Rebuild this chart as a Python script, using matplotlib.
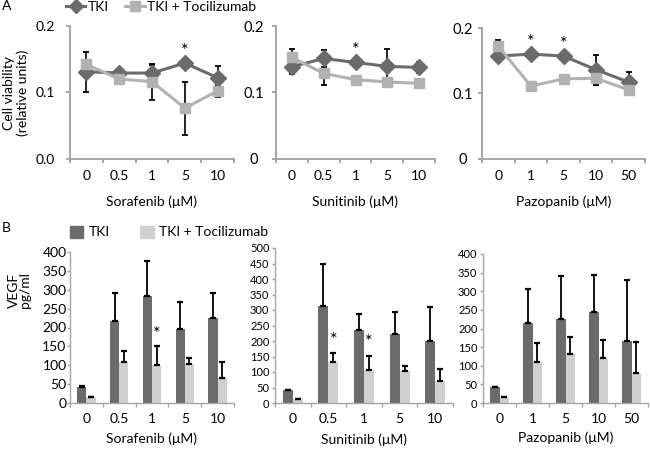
import matplotlib
matplotlib.use("Agg")
import matplotlib.pyplot as plt
from matplotlib.lines import Line2D
from matplotlib.patches import Patch
import numpy as np

plt.rcParams['font.family'] = ['Lato', 'DejaVu Sans']

W, H = 650, 454

# ---------------- data ----------------
sor_doses = ["0", "0.5", "1", "5", "10"]
sun_doses = ["0", "0.5", "1", "5", "10"]
paz_doses = ["0", "1", "5", "10", "50"]

# Panel A: cell viability
sor_tki = [0.131, 0.129, 0.129, 0.144, 0.122]
sor_tki_err = [0.030, 0.003, 0.012, 0.004, 0.018]
sor_combo = [0.142, 0.120, 0.116, 0.076, 0.102]
sor_combo_err = [0.004, 0.003, 0.027, 0.040, 0.009]

sun_tki = [0.1385, 0.151, 0.145, 0.139, 0.1375]
sun_tki_err = [0.011, 0.013, 0.006, 0.026, 0.008]
sun_combo = [0.1525, 0.1285, 0.119, 0.1155, 0.1135]
sun_combo_err = [0.013, 0.0175, 0.003, 0.003, 0.003]

paz_tki = [0.157, 0.160, 0.157, 0.136, 0.117]
paz_tki_err = [0.004, 0.004, 0.004, 0.023, 0.015]
paz_combo = [0.172, 0.111, 0.122, 0.123, 0.105]
paz_combo_err = [0.010, 0.003, 0.003, 0.010, 0.006]

sor_stars_a = [3]
sun_stars_a = [2]
paz_stars_a = [1, 2]

# Panel B: VEGF
sor_tki_b = [42, 216, 284, 196, 225]
sor_tki_b_err = [2, 75, 92, 71, 66]
sor_combo_b = [16, 108, 101, 102, 66]
sor_combo_b_err = [0, 31, 49, 18, 43]

sun_tki_b = [43, 312, 234, 221, 201]
sun_tki_b_err = [0, 136, 53, 71, 108]
sun_combo_b = [14, 131, 106, 103, 70]
sun_combo_b_err = [0, 31, 47, 17, 40]

paz_tki_b = [43, 214, 226, 243, 166]
paz_tki_b_err = [0, 92, 114, 101, 163]
paz_combo_b = [16, 109, 132, 121, 80]
paz_combo_b_err = [0, 51, 46, 48, 83]

sor_stars_b = [2]
sun_stars_b = [1, 2]
paz_stars_b = []

labels = ["TKI", "TKI + Tocilizumab"]

# ---------------- styling ----------------
DARK = "#6b6b6b"
LIGHT_LINE = "#b2b2b2"
LIGHT_BAR = "#d0d0d0"
AXC = "#a6a6a6"

fig = plt.figure(figsize=(W / 100, H / 100), dpi=100)


def rect(x0, x1, ytop, ybot):
    return [x0 / W, 1 - ybot / H, (x1 - x0) / W, (ybot - ytop) / H]


def style_axes(ax, lw):
    for s in ["top", "right"]:
        ax.spines[s].set_visible(False)
    for s in ["left", "bottom"]:
        ax.spines[s].set_color(AXC)
        ax.spines[s].set_linewidth(lw)
    ax.set_xlim(-0.5, 4.5)
    ax.set_xticks(np.arange(-0.5, 5.0, 1.0), minor=True)
    ax.tick_params(axis="x", which="major", length=0)
    ax.tick_params(axis="x", which="minor", length=3, color=AXC, width=lw)
    ax.tick_params(axis="y", color=AXC, width=lw)


def panel_a(box, tki, tki_err, combo, combo_err, doses, stars, ylabels, ypad, yfs, xlabel):
    ax = fig.add_axes(rect(*box))
    style_axes(ax, 1.4)
    x = np.arange(len(doses))
    ax.errorbar(x, tki, yerr=tki_err, fmt="none", ecolor="black", elinewidth=1.2,
                capsize=2.5, capthick=1.3, zorder=2)
    ax.errorbar(x, combo, yerr=combo_err, fmt="none", ecolor="black", elinewidth=1.2,
                capsize=2.5, capthick=1.3, zorder=2)
    ax.plot(x, tki, color=DARK, lw=2.2, marker="D", ms=8.5, zorder=3)
    ax.plot(x, combo, color=LIGHT_LINE, lw=2.2, marker="s", ms=7, zorder=4)
    for i in stars:
        ax.text(x[i], tki[i] + 0.019, "*", ha="center", va="center", fontsize=13)
    ax.set_ylim(0, 0.2)
    ax.set_yticks([0, 0.1, 0.2])
    ax.set_yticklabels(ylabels, fontsize=yfs)
    ax.tick_params(axis="y", length=3, pad=ypad)
    for t in ax.get_yticklabels():
        t.set_horizontalalignment("center")
    ax.set_xticks(x)
    ax.set_xticklabels(doses, fontsize=10)
    ax.tick_params(axis="x", which="major", pad=8)
    ax.text(0.5, -0.33, xlabel, transform=ax.transAxes, ha="center", va="center", fontsize=10)
    return ax


def panel_b(box, tki, tki_err, combo, combo_err, doses, stars, ymax, yfs, ypad, xlabel):
    ax = fig.add_axes(rect(*box))
    style_axes(ax, 1.0)
    x = np.arange(len(doses))
    w = 0.28
    ax.bar(x - w / 2, tki, width=w, color=DARK, zorder=2)
    ax.bar(x + w / 2, combo, width=w, color=LIGHT_BAR, zorder=2)
    ax.errorbar(x - w / 2, tki, yerr=[np.zeros(len(x)), tki_err], fmt="none", ecolor="black",
                elinewidth=1.3, capsize=2.2, capthick=1.6, zorder=3)
    ax.errorbar(x + w / 2, combo, yerr=[np.zeros(len(x)), combo_err], fmt="none", ecolor="black",
                elinewidth=1.3, capsize=2.2, capthick=1.6, zorder=3)
    for i in stars:
        ax.text(x[i] + w / 2, combo[i] + combo_err[i] + ymax * 0.085, "*", ha="center",
                va="center", fontsize=13)
    ax.set_ylim(0, ymax)
    ax.set_yticks(np.arange(0, ymax + 1, 50))
    ax.tick_params(axis="y", length=2, pad=ypad, labelsize=yfs)
    ax.set_xticks(x)
    ax.set_xticklabels(doses, fontsize=10)
    ax.tick_params(axis="x", which="major", pad=7)
    ax.text(0.5, -0.235, xlabel, transform=ax.transAxes, ha="center", va="center", fontsize=10)
    return ax


# Panel A
panel_a((70, 234, 26, 158.5), sor_tki, sor_tki_err, sor_combo, sor_combo_err, sor_doses,
        sor_stars_a, ["0.0", "0.1", "0.2"], 15, 10, "Sorafenib (\u03bcM)")
panel_a((276, 435, 26, 158.5), sun_tki, sun_tki_err, sun_combo, sun_combo_err, sun_doses,
        sun_stars_a, ["0", "0.1", "0.2"], 13, 10.5, "Sunitinib (\u03bcM)")
panel_a((482, 645, 28, 158.5), paz_tki, paz_tki_err, paz_combo, paz_combo_err, paz_doses,
        paz_stars_a, ["0", "0.1", "0.2"], 11, 10.5, "Pazopanib (\u03bcM)")

# Panel B
panel_b((70, 234, 252, 403), sor_tki_b, sor_tki_b_err, sor_combo_b, sor_combo_b_err, sor_doses,
        sor_stars_b, 400, 10, 0.5, "Sorafenib (\u03bcM)")
panel_b((275, 453, 248, 403), sun_tki_b, sun_tki_b_err, sun_combo_b, sun_combo_b_err, sun_doses,
        sun_stars_b, 500, 8, 2, "Sunitinib (\u03bcM)")
panel_b((483, 648, 254, 403), paz_tki_b, paz_tki_b_err, paz_combo_b, paz_combo_b_err, paz_doses,
        paz_stars_b, 400, 8, 2, "Pazopanib (\u03bcM)")

# Panel letters and y labels
fig.text(2 / W, 1 - 6 / H, "A", fontsize=10, ha="left", va="center")
fig.text(2 / W, 1 - 228 / H, "B", fontsize=10, ha="left", va="center")
fig.text(16 / W, 1 - 93 / H, "Cell viability\n(relative units)", rotation=90,
         ha="center", va="center", fontsize=10, linespacing=1.15)
fig.text(19.5 / W, 1 - 290 / H, "VEGF\npg/ml", rotation=90,
         ha="center", va="center", fontsize=10, linespacing=1.0)

# Legends
hA = [Line2D([], [], color=DARK, lw=2.2, marker="D", ms=7),
      Line2D([], [], color=LIGHT_LINE, lw=2.2, marker="s", ms=6.5)]
fig.legend(hA, labels, loc="center left", bbox_to_anchor=(66 / W, 1 - 7 / H), ncol=2,
           frameon=False, fontsize=10, handlelength=1.4, handletextpad=0.15,
           columnspacing=1.2, borderpad=0, borderaxespad=0)

hB = [Patch(color=DARK), Patch(color=LIGHT_BAR)]
fig.legend(hB, labels, loc="center left", bbox_to_anchor=(70 / W, 1 - 232 / H), ncol=2,
           frameon=False, fontsize=10, handlelength=0.95, handleheight=0.95,
           handletextpad=0.4, columnspacing=2.2, borderpad=0, borderaxespad=0)

fig.savefig("out.png", dpi=100)
